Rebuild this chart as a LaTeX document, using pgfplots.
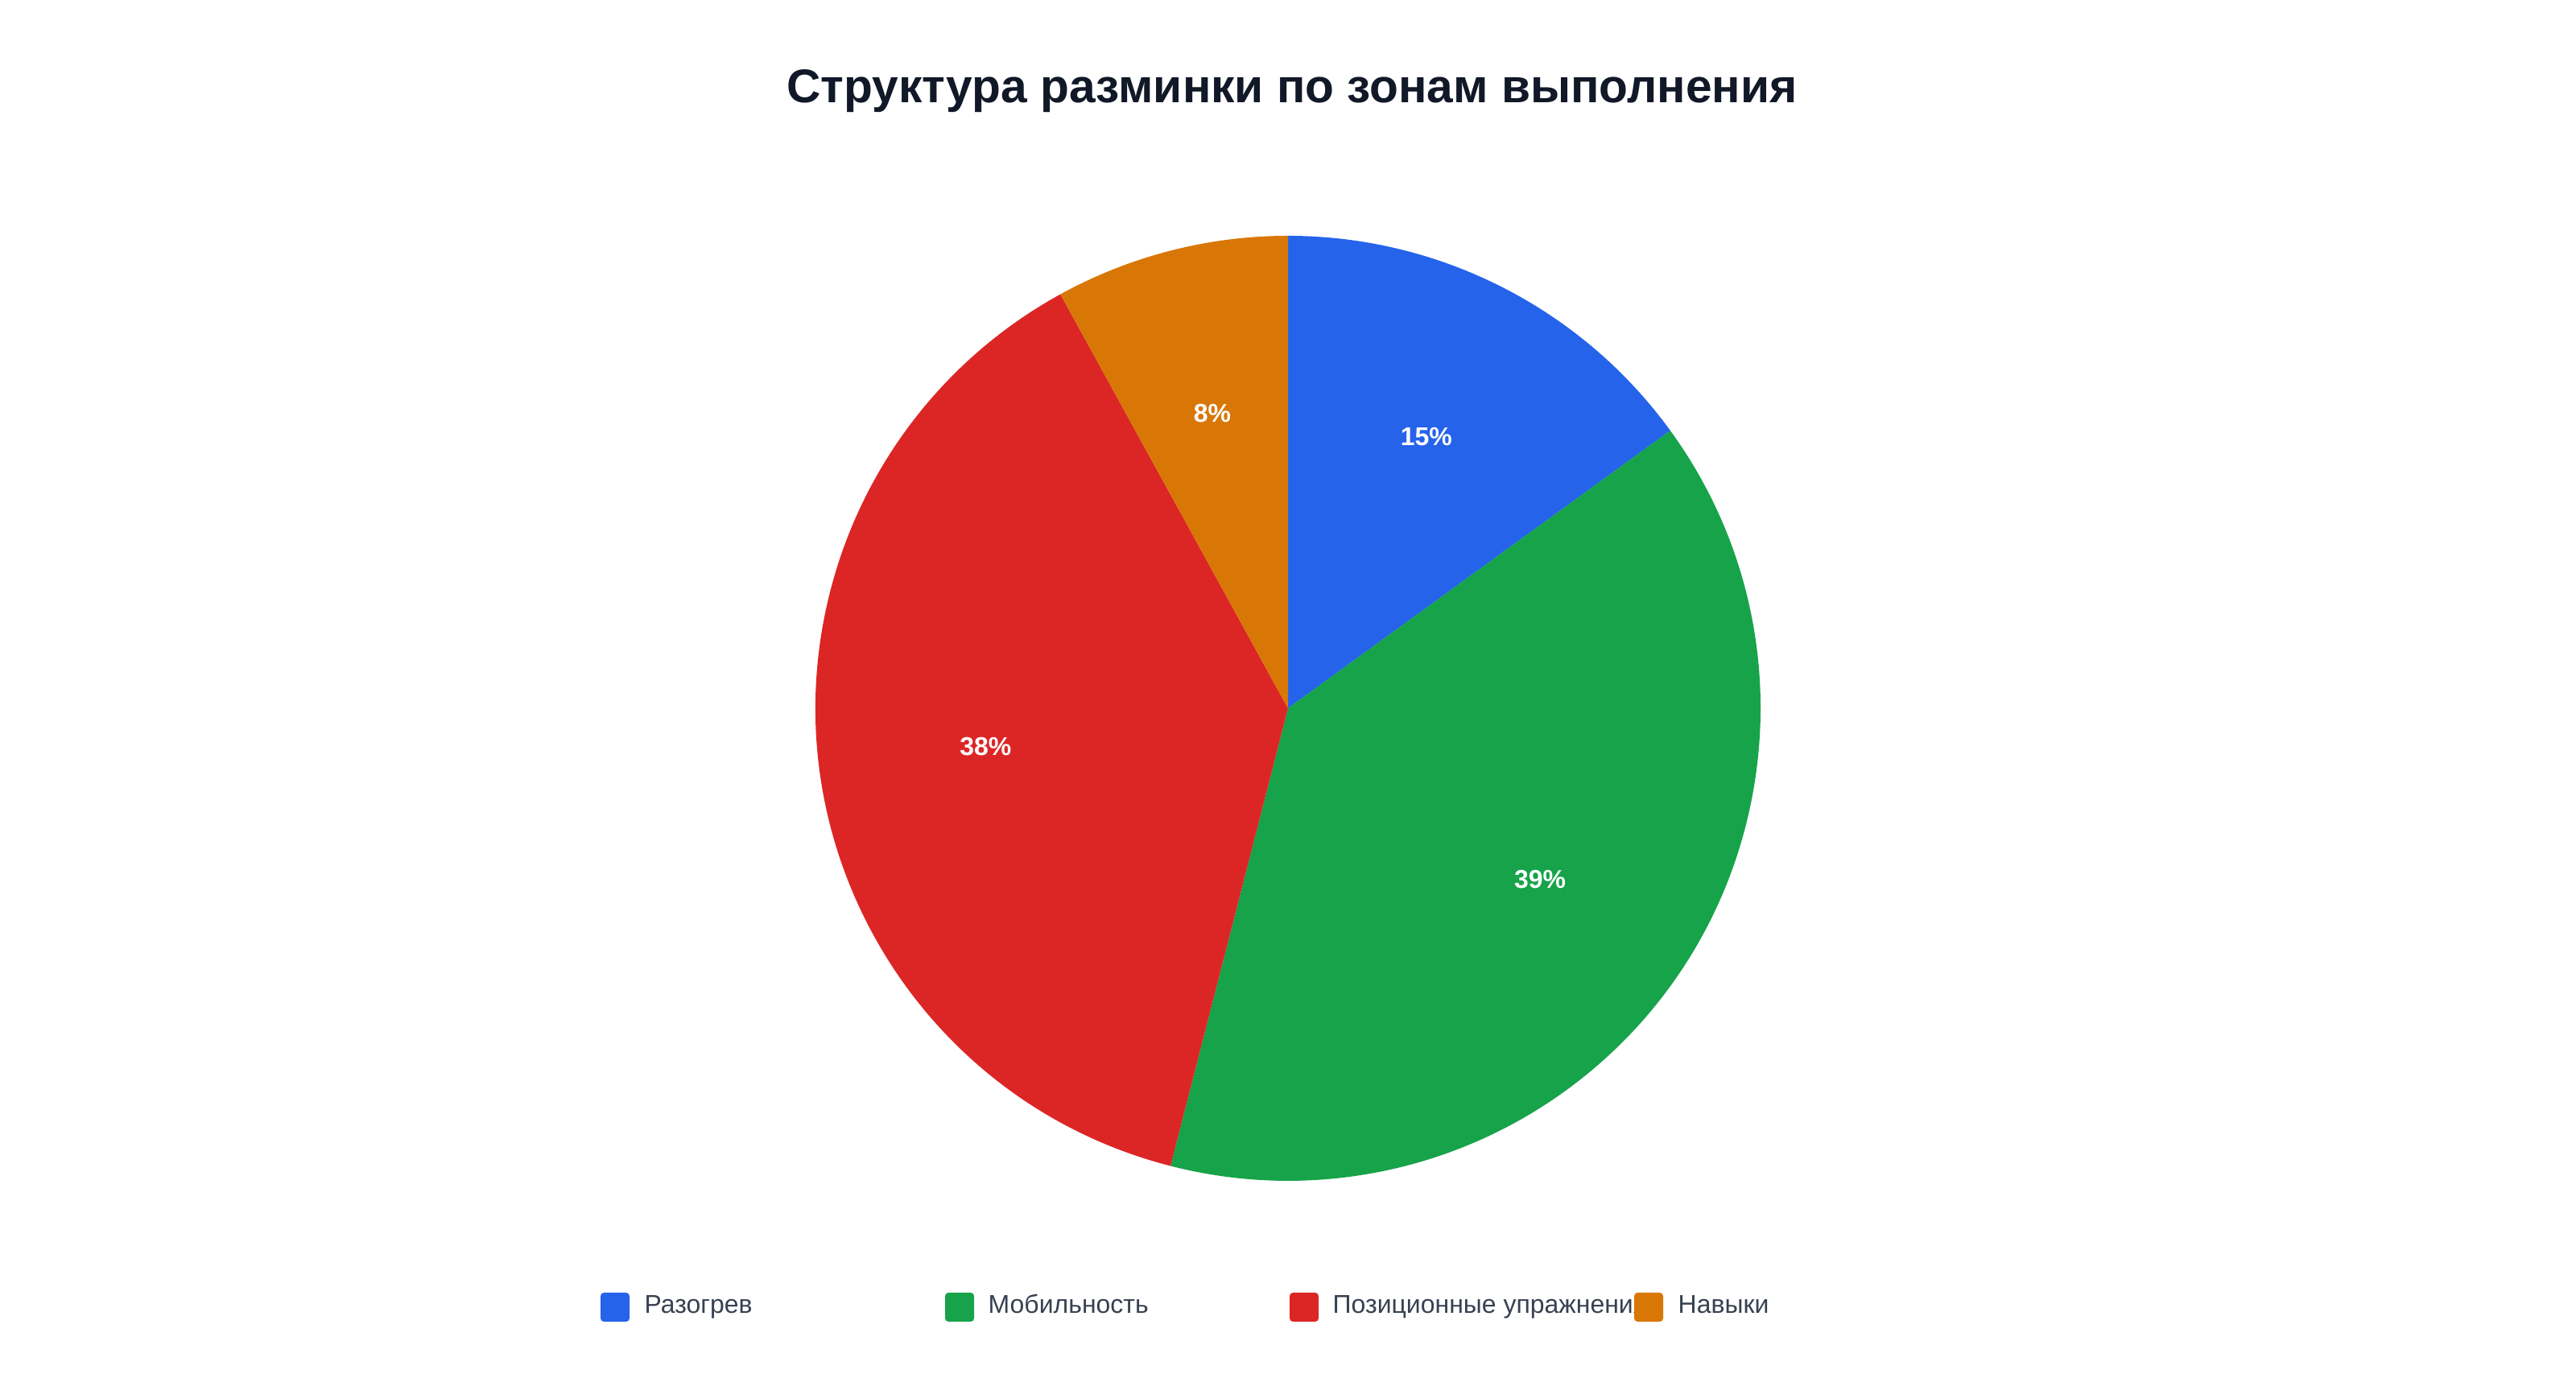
\documentclass[border=0pt]{standalone}
\usepackage{fontspec}
\setmainfont{Liberation Sans}
\usepackage{pgfplots}
\usepackage{pgfplotstable}
\pgfplotsset{compat=1.18}

\definecolor{cA}{HTML}{2563EB}
\definecolor{cB}{HTML}{16A34A}
\definecolor{cC}{HTML}{DC2626}
\definecolor{cD}{HTML}{D97706}
\definecolor{titlecol}{HTML}{111827}
\definecolor{legcol}{HTML}{374151}

% доли разминки, %
\pgfplotstableread[col sep=comma]{
name,val
Разогрев,15
Мобильность,39
Позиционные упражнения,38
Навыки,8
}\slices

\pgfplotstablegetelem{0}{val}\of\slices \let\vA\pgfplotsretval
\pgfplotstablegetelem{1}{val}\of\slices \let\vB\pgfplotsretval
\pgfplotstablegetelem{2}{val}\of\slices \let\vC\pgfplotsretval
\pgfplotstablegetelem{3}{val}\of\slices \let\vD\pgfplotsretval
\pgfplotstablegetelem{0}{name}\of\slices \let\nA\pgfplotsretval
\pgfplotstablegetelem{1}{name}\of\slices \let\nB\pgfplotsretval
\pgfplotstablegetelem{2}{name}\of\slices \let\nC\pgfplotsretval
\pgfplotstablegetelem{3}{name}\of\slices \let\nD\pgfplotsretval

% углы: от 90 градусов по часовой стрелке
\pgfmathsetmacro\aA{90}
\pgfmathsetmacro\aB{\aA-3.6*\vA}
\pgfmathsetmacro\aC{\aB-3.6*\vB}
\pgfmathsetmacro\aD{\aC-3.6*\vC}
\pgfmathsetmacro\aE{\aD-3.6*\vD}
\pgfmathsetmacro\mA{(\aA+\aB)/2}
\pgfmathsetmacro\mB{(\aB+\aC)/2}
\pgfmathsetmacro\mC{(\aC+\aD)/2}
\pgfmathsetmacro\mD{(\aD+\aE)/2}

\begin{document}
\begin{tikzpicture}
\path (0,0) rectangle (32,17.07);

\node[font=\fontsize{16.7pt}{20pt}\selectfont\bfseries, text=titlecol, anchor=base]
  at (16.05,15.79) {Структура разминки по зонам выполнения};

\begin{axis}[
  at={(16.00cm,8.27cm)}, anchor=center,
  width=11.74cm, height=11.74cm, scale only axis,
  xmin=-1, xmax=1, ymin=-1, ymax=1,
  hide axis, clip=false,
]
\addplot[draw=none] coordinates {(0,0)};
\fill[cA] (axis cs:0,0) -- (axis cs:{cos(\aA)},{sin(\aA)}) arc[start angle=\aA, end angle=\aB, radius=1] -- cycle;
\fill[cB] (axis cs:0,0) -- (axis cs:{cos(\aB)},{sin(\aB)}) arc[start angle=\aB, end angle=\aC, radius=1] -- cycle;
\fill[cC] (axis cs:0,0) -- (axis cs:{cos(\aC)},{sin(\aC)}) arc[start angle=\aC, end angle=\aD, radius=1] -- cycle;
\fill[cD] (axis cs:0,0) -- (axis cs:{cos(\aD)},{sin(\aD)}) arc[start angle=\aD, end angle=\aE, radius=1] -- cycle;
\begin{scope}[every node/.style={text=white, font=\fontsize{9.1pt}{11pt}\selectfont\bfseries}]
\node at (axis cs:{0.645*cos(\mA)},{0.645*sin(\mA)}) {\vA\%};
\node at (axis cs:{0.645*cos(\mB)},{0.645*sin(\mB)}) {\vB\%};
\node at (axis cs:{0.645*cos(\mC)},{0.645*sin(\mC)}) {\vC\%};
\node at (axis cs:{0.645*cos(\mD)},{0.645*sin(\mD)}) {\vD\%};
\end{scope}
\end{axis}

% легенда
\begin{scope}[every node/.style={text=legcol, anchor=base west, inner sep=0pt, font=\fontsize{9.1pt}{11pt}\selectfont}]
\fill[cA, rounded corners=1.2pt] (7.46,0.65) rectangle (7.82,1.01);
\node at (8.00,0.75) {\nA};
\fill[cB, rounded corners=1.2pt] (11.74,0.65) rectangle (12.10,1.01);
\node at (12.27,0.75) {\nB};
\fill[cC, rounded corners=1.2pt] (16.02,0.65) rectangle (16.38,1.01);
\node at (16.55,0.75) {\nC};
\fill[white] (20.30,0.55) rectangle (20.84,1.10);
\fill[cD, rounded corners=1.2pt] (20.30,0.65) rectangle (20.66,1.01);
\node at (20.84,0.75) {\nD};
\end{scope}
\end{tikzpicture}
\end{document}
